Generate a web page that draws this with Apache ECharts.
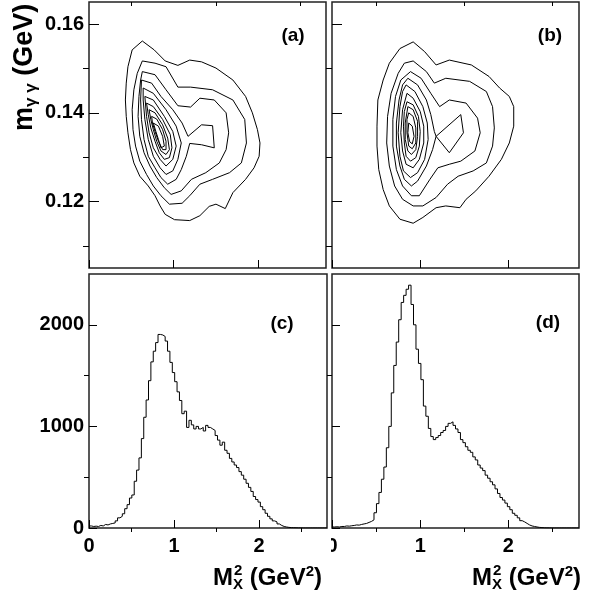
<!DOCTYPE html>
<html>
<head>
<meta charset="utf-8">
<script src="https://cdn.jsdelivr.net/npm/echarts@6/dist/echarts.min.js"></script>
<style>
  html, body { margin: 0; padding: 0; background: #fff; }
  #main { width: 592px; height: 593px; }
</style>
</head>
<body>
<div id="main"></div>
<script>
// M_X^2 histograms: 100 bins of 0.028 GeV^2 from 0 to 2.8
const binWidth = 0.028;
const countsC = [
  20, 15, 18, 15, 25, 20, 35, 30, 40, 45,
  50, 70, 100, 115, 140, 190, 230, 295, 325, 460,
  570, 690, 880, 1090, 1260, 1450, 1635, 1740, 1825, 1905,
  1900, 1885, 1840, 1740, 1630, 1530, 1440, 1340, 1255, 1125,
  1150, 990, 1060, 1015, 975, 1000, 975, 990, 955, 1010,
  990, 975, 960, 910, 865, 815, 845, 765, 735, 685,
  650, 620, 595, 555, 520, 480, 440, 400, 360, 310,
  280, 255, 210, 180, 145, 115, 90, 70, 60, 40,
  25, 15, 10, 6, 4, 3, 2, 1, 1, 0,
  0, 0, 0, 0, 0, 0, 0, 0, 0, 0
];
const countsD = [
  10, 12, 10, 15, 15, 20, 18, 22, 25, 30,
  28, 35, 40, 45, 55, 65, 80, 150, 240, 350,
  480, 600, 790, 1000, 1330, 1600, 1830, 2050, 2220, 2290,
  2350, 2390, 2200, 2000, 1760, 1620, 1460, 1200, 1100, 980,
  900, 870, 890, 910, 940, 960, 1000, 1030, 1045, 1010,
  975, 940, 870, 840, 800, 765, 745, 700, 670, 620,
  590, 565, 520, 490, 455, 425, 385, 340, 300, 275,
  245, 210, 180, 145, 125, 100, 72, 60, 45, 30,
  20, 15, 10, 6, 4, 2, 1, 1, 0, 0,
  0, 0, 0, 0, 0, 0, 0, 0, 0, 0
];

// contour lines of m_gg vs M_X^2, [M_X^2, m_gg], outer level first
const contoursA = [
  [[0.63,0.1562],[0.77,0.1542],[0.90,0.1517],[1.05,0.1507],[1.19,0.1519],[1.33,0.1515],[1.50,0.1501],[1.70,0.1474],[1.85,0.1437],[1.93,0.1400],[1.99,0.1362],[2.02,0.1332],[2.01,0.1302],[1.95,0.1276],[1.85,0.1250],[1.70,0.1220],[1.61,0.1184],[1.50,0.1194],[1.42,0.1189],[1.31,0.1168],[1.19,0.1157],[1.01,0.1159],[0.90,0.1171],[0.84,0.1190],[0.78,0.1213],[0.70,0.1235],[0.60,0.1257],[0.53,0.1287],[0.49,0.1317],[0.46,0.1355],[0.44,0.1392],[0.43,0.1429],[0.44,0.1467],[0.46,0.1504],[0.51,0.1542]],
  [[0.63,0.1517],[0.78,0.1512],[0.91,0.1504],[1.05,0.1458],[1.20,0.1458],[1.46,0.1452],[1.70,0.1429],[1.84,0.1385],[1.86,0.1332],[1.80,0.1287],[1.66,0.1265],[1.46,0.1250],[1.31,0.1239],[1.19,0.1213],[1.10,0.1196],[0.95,0.1194],[0.85,0.1213],[0.76,0.1235],[0.68,0.1261],[0.60,0.1291],[0.55,0.1325],[0.52,0.1362],[0.51,0.1407],[0.53,0.1452],[0.57,0.1489]],
  [[0.63,0.1493],[0.78,0.1486],[0.91,0.1452],[1.05,0.1416],[1.20,0.1413],[1.31,0.1433],[1.48,0.1429],[1.62,0.1400],[1.65,0.1355],[1.62,0.1317],[1.54,0.1287],[1.38,0.1265],[1.21,0.1250],[1.09,0.1224],[0.97,0.1216],[0.89,0.1231],[0.80,0.1254],[0.72,0.1280],[0.65,0.1310],[0.60,0.1347],[0.58,0.1392],[0.59,0.1437],[0.61,0.1474]],
  [[0.62,0.1474],[0.74,0.1467],[0.85,0.1437],[0.99,0.1407],[1.10,0.1377],[1.17,0.1347],[1.33,0.1373],[1.46,0.1371],[1.48,0.1321],[1.33,0.1328],[1.19,0.1331],[1.15,0.1302],[1.09,0.1272],[1.03,0.1250],[0.93,0.1239],[0.85,0.1254],[0.78,0.1276],[0.70,0.1302],[0.65,0.1340],[0.62,0.1385],[0.61,0.1429]],
  [[0.64,0.1456],[0.76,0.1444],[0.91,0.1407],[1.03,0.1370],[1.09,0.1332],[1.05,0.1295],[0.99,0.1269],[0.91,0.1261],[0.84,0.1276],[0.76,0.1302],[0.70,0.1340],[0.66,0.1385],[0.64,0.1429]],
  [[0.66,0.1437],[0.76,0.1429],[0.89,0.1392],[0.99,0.1358],[1.03,0.1325],[0.99,0.1295],[0.91,0.1280],[0.84,0.1295],[0.76,0.1321],[0.71,0.1355],[0.68,0.1392]],
  [[0.68,0.1422],[0.76,0.1414],[0.87,0.1385],[0.96,0.1351],[0.98,0.1321],[0.95,0.1299],[0.89,0.1295],[0.83,0.1310],[0.78,0.1336],[0.73,0.1366],[0.70,0.1396]],
  [[0.71,0.1407],[0.78,0.1400],[0.87,0.1373],[0.93,0.1343],[0.95,0.1317],[0.91,0.1306],[0.85,0.1314],[0.80,0.1336],[0.76,0.1362],[0.73,0.1385]],
  [[0.74,0.1392],[0.80,0.1386],[0.87,0.1362],[0.91,0.1336],[0.91,0.1317],[0.87,0.1317],[0.82,0.1336],[0.78,0.1358],[0.75,0.1377]],
  [[0.76,0.1377],[0.82,0.1370],[0.87,0.1347],[0.89,0.1325],[0.85,0.1321],[0.82,0.1340],[0.79,0.1358]]
];
const contoursB = [
  [[0.92,0.1560],[1.05,0.1538],[1.18,0.1508],[1.33,0.1519],[1.58,0.1508],[1.78,0.1482],[1.90,0.1456],[2.01,0.1437],[2.06,0.1414],[2.06,0.1370],[2.01,0.1332],[1.92,0.1295],[1.78,0.1257],[1.63,0.1224],[1.52,0.1205],[1.45,0.1186],[1.29,0.1190],[1.18,0.1186],[1.03,0.1164],[0.92,0.1151],[0.77,0.1160],[0.65,0.1190],[0.58,0.1227],[0.53,0.1272],[0.51,0.1325],[0.51,0.1370],[0.52,0.1429],[0.58,0.1474],[0.65,0.1512],[0.77,0.1545]],
  [[0.92,0.1517],[1.07,0.1493],[1.16,0.1467],[1.29,0.1478],[1.56,0.1471],[1.75,0.1448],[1.82,0.1414],[1.84,0.1366],[1.82,0.1325],[1.75,0.1287],[1.60,0.1269],[1.43,0.1257],[1.31,0.1239],[1.18,0.1209],[1.03,0.1190],[0.92,0.1190],[0.80,0.1205],[0.71,0.1235],[0.65,0.1280],[0.62,0.1332],[0.63,0.1392],[0.67,0.1444],[0.75,0.1489],[0.82,0.1512]],
  [[0.89,0.1493],[1.01,0.1478],[1.12,0.1444],[1.22,0.1414],[1.33,0.1429],[1.52,0.1422],[1.65,0.1388],[1.68,0.1355],[1.62,0.1314],[1.46,0.1291],[1.33,0.1284],[1.20,0.1276],[1.11,0.1250],[0.99,0.1213],[0.90,0.1213],[0.80,0.1235],[0.73,0.1272],[0.69,0.1325],[0.69,0.1385],[0.72,0.1437],[0.78,0.1474]],
  [[0.86,0.1478],[0.97,0.1463],[1.07,0.1429],[1.12,0.1396],[1.16,0.1358],[1.18,0.1347],[1.46,0.1396],[1.49,0.1355],[1.33,0.1310],[1.18,0.1347],[1.14,0.1317],[1.07,0.1280],[0.97,0.1246],[0.90,0.1235],[0.82,0.1250],[0.77,0.1280],[0.73,0.1325],[0.73,0.1377],[0.76,0.1429],[0.80,0.1463]],
  [[0.84,0.1463],[0.94,0.1448],[1.03,0.1414],[1.08,0.1377],[1.09,0.1340],[1.05,0.1295],[0.97,0.1265],[0.89,0.1254],[0.81,0.1269],[0.77,0.1302],[0.75,0.1355],[0.77,0.1414],[0.80,0.1448]],
  [[0.85,0.1444],[0.92,0.1433],[1.00,0.1403],[1.04,0.1370],[1.04,0.1332],[0.99,0.1295],[0.92,0.1276],[0.84,0.1284],[0.80,0.1314],[0.78,0.1355],[0.80,0.1407]],
  [[0.85,0.1425],[0.92,0.1418],[0.98,0.1392],[1.00,0.1358],[0.99,0.1325],[0.95,0.1299],[0.89,0.1291],[0.84,0.1302],[0.82,0.1332],[0.81,0.1370],[0.82,0.1403]],
  [[0.86,0.1414],[0.92,0.1407],[0.97,0.1381],[0.97,0.1347],[0.95,0.1317],[0.90,0.1306],[0.86,0.1314],[0.83,0.1340],[0.83,0.1377]],
  [[0.87,0.1400],[0.92,0.1392],[0.95,0.1366],[0.95,0.1332],[0.91,0.1319],[0.87,0.1325],[0.85,0.1355],[0.85,0.1385]],
  [[0.87,0.1377],[0.91,0.1370],[0.93,0.1347],[0.91,0.1330],[0.88,0.1335],[0.86,0.1355]]
];

const massRange = [0.105, 0.165];
const massTicks = [0.12, 0.14, 0.16];
const massMinorTicks = [0.11, 0.13, 0.15];
const countRange = [0, 2500];
const countTicks = [0, 1000, 2000];
const countMinorTicks = [500, 1500];
const mx2Range = [0, 2.8];
const mx2Ticks = [0, 1, 2];
const mx2MinorTicks = [0.5, 1.5, 2.5];

const chart = echarts.init(document.getElementById('main'));

const font = 'Liberation Sans, Arial, Helvetica, sans-serif';
const grids = [
  { left: 89, top: 2, width: 237, height: 266 },
  { left: 332, top: 2, width: 247, height: 266 },
  { left: 89, top: 274, width: 238, height: 254 },
  { left: 332, top: 274, width: 247, height: 254 }
];

const xAxis = [];
const yAxis = [];

function addAxes(gridIndex, range, major, minor, showLabels, list, fmt, tickLen) {
  const base = {
    gridIndex,
    type: 'value',
    min: range[0],
    max: range[1],
    axisLine: { show: false },
    splitLine: { show: false },
    animation: false
  };
  list.push(Object.assign({}, base, {
    axisTick: { inside: true, length: tickLen[0], customValues: major, lineStyle: { color: '#000', width: 1 } },
    axisLabel: {
      show: showLabels,
      customValues: major,
      margin: list === xAxis ? 8 : 5,
      color: '#000',
      fontSize: 20,
      fontWeight: 'bold',
      fontFamily: font,
      formatter: fmt
    }
  }));
  list.push(Object.assign({}, base, {
    axisTick: { inside: true, length: tickLen[1], customValues: minor, lineStyle: { color: '#000', width: 1 } },
    axisLabel: { show: false }
  }));
}

// grid 0 (a), 1 (b), 2 (c), 3 (d): axes 2*g is the labelled one
addAxes(0, mx2Range, mx2Ticks, mx2MinorTicks, false, xAxis, v => String(v), [8, 4]);
addAxes(0, massRange, massTicks, massMinorTicks, true, yAxis, v => v.toFixed(2), [10, 6]);
addAxes(1, mx2Range, mx2Ticks, mx2MinorTicks, false, xAxis, v => String(v), [8, 4]);
addAxes(1, massRange, massTicks, massMinorTicks, false, yAxis, v => v.toFixed(2), [10, 6]);
addAxes(2, mx2Range, mx2Ticks, mx2MinorTicks, true, xAxis, v => String(v), [8, 4]);
addAxes(2, countRange, countTicks, countMinorTicks, true, yAxis, v => String(v), [8, 5]);
addAxes(3, mx2Range, mx2Ticks, mx2MinorTicks, true, xAxis, v => String(v), [8, 4]);
addAxes(3, countRange, countTicks, countMinorTicks, false, yAxis, v => String(v), [8, 5]);

const series = [];

function addContours(contours, g) {
  contours.forEach(c => {
    series.push({
      type: 'line',
      xAxisIndex: 2 * g,
      yAxisIndex: 2 * g,
      data: c.concat([c[0]]),
      showSymbol: false,
      silent: true,
      lineStyle: { color: '#000', width: 1 },
      z: 3
    });
  });
}

function addHistogram(counts, g) {
  const data = counts.map((v, i) => [i * binWidth, v]);
  data.push([counts.length * binWidth, counts[counts.length - 1]]);
  series.push({
    type: 'line',
    step: 'end',
    xAxisIndex: 2 * g,
    yAxisIndex: 2 * g,
    data,
    showSymbol: false,
    silent: true,
    lineStyle: { color: '#000', width: 1 },
    z: 3
  });
}

addContours(contoursA, 0);
addContours(contoursB, 1);
addHistogram(countsC, 2);
addHistogram(countsD, 3);

const panelLabel = (text, x, y) => ({
  type: 'text',
  x, y,
  z: 10,
  style: {
    text,
    fill: '#000',
    font: 'bold 19px ' + font,
    align: 'center',
    verticalAlign: 'middle'
  }
});

const titleRich = {
  t: { fontSize: 24, fontWeight: 'bold', fontFamily: font, lineHeight: 28, color: '#000' },
  sub: { fontSize: 15, fontWeight: 'bold', fontFamily: font, lineHeight: 15, verticalAlign: 'bottom', color: '#000' }
};

const yTitleRich = {
  t: { fontSize: 27, fontWeight: 'bold', fontFamily: font, lineHeight: 30, color: '#000' },
  sub: { fontSize: 17, fontWeight: 'bold', fontFamily: font, lineHeight: 17, verticalAlign: 'bottom', color: '#000' }
};

const xTitle = (x) => ([
  {
    type: 'text', x, y: 578, z: 10,
    style: {
      text: '{t|M}{sub|X}{t| (GeV}{sup|2}{t|)}',
      rich: Object.assign({}, titleRich, {
        sup: { fontSize: 15, fontWeight: 'bold', fontFamily: font, lineHeight: 15, verticalAlign: 'top', color: '#000' }
      }),
      align: 'left',
      verticalAlign: 'middle'
    }
  },
  {
    type: 'text', x: x + 21, y: 571, z: 10,
    style: { text: '2', fill: '#000', font: 'bold 15px ' + font, align: 'left', verticalAlign: 'middle' }
  }
]);

chart.setOption({
  animation: false,
  backgroundColor: '#fff',
  grid: grids.map(g => Object.assign({ show: true, borderColor: '#222', borderWidth: 1.5, backgroundColor: 'transparent' }, g)),
  xAxis,
  yAxis,
  series,
  graphic: [
    panelLabel('(a)', 293, 36),
    panelLabel('(b)', 550, 36),
    panelLabel('(c)', 282, 324),
    panelLabel('(d)', 548, 323),
    {
      type: 'text', x: 25, y: 131, rotation: Math.PI / 2, z: 10,
      style: {
        text: '{t|m}{sub|γ γ}{t| (GeV)}',
        rich: yTitleRich,
        align: 'left',
        verticalAlign: 'middle'
      }
    },
    ...xTitle(213),
    ...xTitle(472),
    // the tick label "0" of panel (d) is half hidden behind the pad edge
    { type: 'rect', shape: { x: 320, y: 533, width: 11, height: 22 }, style: { fill: '#fff' }, z: 20 }
  ]
});
</script>
</body>
</html>
